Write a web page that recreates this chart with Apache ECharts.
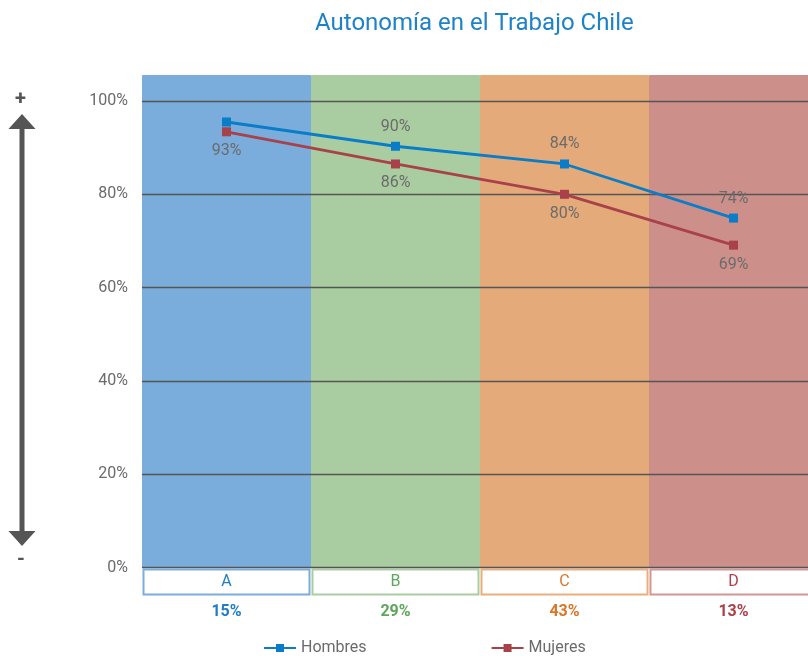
<!DOCTYPE html>
<html>
<head>
<meta charset="utf-8">
<script src="https://cdn.jsdelivr.net/npm/echarts@6/dist/echarts.min.js"></script>
<style>html,body{margin:0;padding:0;background:#fff}#c{width:808px;height:656px}</style>
</head>
<body>
<div id="c"></div>
<script>
// ---- data ----
const categories = ['A', 'B', 'C', 'D'];
const shares = [15, 29, 43, 13];
const hombres = [95.5, 90.3, 86.5, 74.9];
const mujeres = [93.4, 86.5, 80, 69.1];
const hombresLabels = [null, '90%', '84%', '74%'];
const mujeresLabels = ['93%', '86%', '80%', '69%'];
const yTicks = [0, 20, 40, 60, 80, 100];
const bgValues = [1, 1, 1, 1];

// ---- styles ----
const bgColors = ['#7aaddc', '#a9cda0', '#e4aa7a', '#cd8f8a'];
const boxBorder = ['#7aaddc', '#a9cda0', '#e9ae7c', '#d29693'];
const catText = ['#1f7dc6', '#5ea65a', '#da7628', '#ad3f47'];
const colH = '#0a7dc8';
const colM = '#a8414a';
const grey = '#6b6b6b';
const FONT = 'Roboto';

const rich = {};
categories.forEach((c, i) => {
  rich['b' + i] = {
    width: 164, height: 23, align: 'center', verticalAlign: 'middle',
    backgroundColor: '#fff', borderColor: boxBorder[i], borderWidth: 2,
    color: catText[i], fontSize: 16, fontFamily: FONT
  };
  rich['p' + i] = {
    color: catText[i], fontSize: 16, fontWeight: 'bold', fontFamily: FONT,
    lineHeight: 36, align: 'center'
  };
});

const chart = echarts.init(document.getElementById('c'), null, {renderer: 'canvas'});
chart.setOption({
  animation: false,
  backgroundColor: '#fff',
  title: {
    text: 'Autonomía en el Trabajo Chile',
    left: 310, top: 7,
    textStyle: {color: '#1e82c8', fontSize: 24, fontWeight: 'normal', fontFamily: FONT}
  },
  legend: {
    data: ['Hombres', 'Mujeres'],
    left: 258, top: 635,
    itemWidth: 32, itemHeight: 10, itemGap: 124,
    textStyle: {color: grey, fontSize: 16, fontFamily: FONT}
  },
  grid: [
    {left: 142, width: 676, top: 75, bottom: 88.5, outerBoundsMode: 'none'},
    {left: 142, width: 676, top: 101, bottom: 88.5, outerBoundsMode: 'none'}
  ],
  xAxis: [
    {gridIndex: 0, type: 'category', data: categories, show: false},
    {
      gridIndex: 1, type: 'category', data: categories,
      axisLine: {show: false}, axisTick: {show: false},
      axisLabel: {
        margin: 3, interval: 0, hideOverlap: false,
        formatter: (v, i) => '{b' + i + '|' + v + '}\n{p' + i + '|' + shares[i] + '%}',
        rich: rich
      }
    }
  ],
  yAxis: [
    {gridIndex: 0, type: 'value', min: 0, max: 1, show: false},
    {
      gridIndex: 1, type: 'value', min: yTicks[0], max: yTicks[yTicks.length - 1], interval: 20,
      z: 3,
      axisLine: {show: false}, axisTick: {show: false},
      axisLabel: {formatter: '{value}%', color: grey, fontSize: 16, fontFamily: FONT, margin: 14},
      splitLine: {lineStyle: {color: '#555', width: 1.3}}
    }
  ],
  series: [
    {
      type: 'bar', xAxisIndex: 0, yAxisIndex: 0, z: 1,
      barWidth: '100%', barCategoryGap: 0, silent: true,
      data: bgValues.map((v, i) => ({value: v, itemStyle: {color: bgColors[i], borderColor: bgColors[i], borderWidth: 1}}))
    },
    {
      name: 'Hombres', type: 'line', xAxisIndex: 1, yAxisIndex: 1, z: 6,
      data: hombres, color: colH,
      symbol: 'rect', symbolSize: 9,
      lineStyle: {width: 2.8, color: colH}, itemStyle: {color: colH},
      label: {
        show: true, position: 'top', distance: 7,
        formatter: p => hombresLabels[p.dataIndex] || '',
        color: grey, fontSize: 16, fontFamily: FONT
      }
    },
    {
      name: 'Mujeres', type: 'line', xAxisIndex: 1, yAxisIndex: 1, z: 5,
      data: mujeres, color: colM,
      symbol: 'rect', symbolSize: 9,
      lineStyle: {width: 2.8, color: colM}, itemStyle: {color: colM},
      label: {
        show: true, position: 'bottom', distance: 7,
        formatter: p => mujeresLabels[p.dataIndex] || '',
        color: grey, fontSize: 16, fontFamily: FONT
      }
    }
  ],
  graphic: [
    {type: 'rect', shape: {x: 19.5, y: 126, width: 5, height: 408}, style: {fill: '#555'}},
    {type: 'polygon', shape: {points: [[22, 114], [8.5, 129], [35.5, 129]]}, style: {fill: '#555'}},
    {type: 'polygon', shape: {points: [[22, 546], [8.5, 531], [35.5, 531]]}, style: {fill: '#555'}},
    {type: 'text', left: 15, top: 90, style: {text: '+', fill: '#555', fontSize: 20, fontWeight: 'bold', fontFamily: FONT}},
    {type: 'text', left: 17, top: 550, style: {text: '-', fill: '#555', fontSize: 20, fontWeight: 'bold', fontFamily: FONT}}
  ]
});
</script>
</body>
</html>
